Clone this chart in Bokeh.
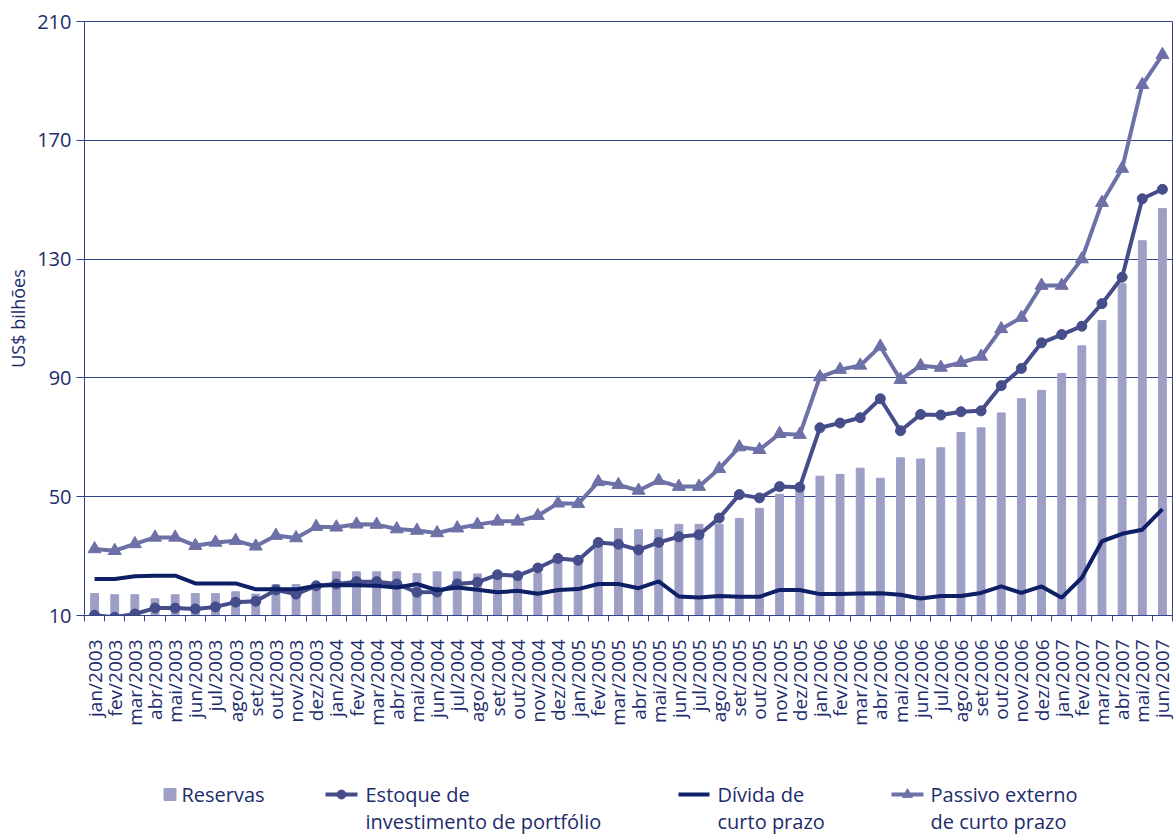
import math
from bokeh.plotting import figure
from bokeh.models import Range1d, FixedTicker, ColumnDataSource
from bokeh.layouts import column
from bokeh.embed import file_html
from bokeh.resources import INLINE
from bokeh.core.properties import value

# ---------------- data ----------------
meses = ["jan", "fev", "mar", "abr", "mai", "jun", "jul", "ago", "set", "out", "nov", "dez"]
months = [f"{m}/{y}" for y in (2003, 2004, 2005, 2006) for m in meses] + [f"{m}/2007" for m in meses[:6]]

reservas = [17.4, 17.0, 17.0, 15.6, 17.0, 17.4, 17.4, 18.0, 17.2, 20.4, 20.4, 20.4,
            24.7, 24.7, 24.7, 24.7, 24.1, 24.7, 24.7, 24.0, 23.5, 23.5, 24.2, 28.6,
            28.6, 34.1, 39.3, 38.9, 38.9, 40.7, 40.7, 40.7, 42.7, 46.1, 50.8, 53.2,
            56.9, 57.5, 59.6, 56.2, 63.1, 62.7, 66.5, 71.6, 73.2, 78.2, 83.0, 85.8,
            91.5, 100.8, 109.3, 121.7, 136.2, 147.0]

estoque = [10.1, 9.4, 10.5, 12.5, 12.5, 12.2, 12.9, 14.5, 14.8, 18.6, 17.2, 20.0,
           20.6, 21.4, 21.4, 20.6, 17.8, 17.9, 20.6, 21.2, 23.7, 23.4, 26.0, 29.2,
           28.6, 34.6, 34.0, 32.1, 34.6, 36.5, 37.2, 42.8, 50.7, 49.6, 53.4, 53.2,
           73.2, 74.8, 76.6, 83.0, 72.2, 77.7, 77.5, 78.6, 78.9, 87.4, 93.2, 101.8,
           104.6, 107.4, 115.0, 123.9, 150.3, 153.5]

divida = [22.3, 22.3, 23.2, 23.4, 23.4, 20.8, 20.8, 20.8, 18.8, 18.8, 18.8, 20.0,
          20.3, 20.2, 20.0, 19.4, 20.6, 18.5, 19.4, 18.7, 17.8, 18.3, 17.3, 18.6,
          18.9, 20.6, 20.6, 19.2, 21.5, 16.4, 16.1, 16.6, 16.3, 16.3, 18.6, 18.6,
          17.2, 17.2, 17.4, 17.5, 17.0, 15.7, 16.6, 16.6, 17.6, 19.8, 17.6, 19.8,
          16.0, 22.7, 35.0, 37.5, 38.9, 45.8]

passivo = [32.4, 31.8, 34.1, 36.3, 36.3, 33.5, 34.6, 35.2, 33.3, 36.9, 36.1, 39.9,
           39.7, 40.7, 40.6, 39.1, 38.6, 37.8, 39.4, 40.6, 41.7, 41.7, 43.6, 47.8,
           47.6, 55.0, 54.0, 52.1, 55.4, 53.4, 53.4, 59.4, 66.7, 65.8, 71.2, 70.9,
           90.3, 92.8, 94.2, 100.6, 89.4, 94.1, 93.5, 95.1, 97.2, 106.5, 110.3, 121.1,
           121.1, 130.0, 149.0, 160.5, 188.7, 198.8]

y_ticks = [10, 50, 90, 130, 170, 210]
y_label = "US$ bilhões"
legend_lines = [("Reservas", ""),
                ("Estoque de", "investimento de portfólio"),
                ("Dívida de", "curto prazo"),
                ("Passivo externo", "de curto prazo")]

# ---------------- style ----------------
TXT = "#1c2c6c"
C_BAR = "#9d9fc6"
C_EST = "#464d8b"
C_DIV = "#0e1f66"
C_PAS = "#6e71a7"
C_GRID = "#34448a"
FONT = "Open Sans"
W = 1174
LEFT, RIGHT = 84, 2
FRAME_R = W - RIGHT

idx = list(range(len(months)))
src = ColumnDataSource(dict(x=idx, reservas=reservas, estoque=estoque, divida=divida, passivo=passivo))

p = figure(width=W, height=730, output_backend="svg", toolbar_location=None,
           x_range=Range1d(-0.5, len(months) - 0.5), y_range=Range1d(y_ticks[0], y_ticks[-1]),
           min_border_left=LEFT, min_border_right=RIGHT, min_border_top=21, min_border_bottom=115)
p.background_fill_color = "white"
p.border_fill_color = "white"
p.outline_line_color = C_GRID
p.outline_line_width = 1

p.vbar(x="x", top="reservas", bottom=0, width=0.39, color=C_BAR, source=src)
p.line("x", "estoque", line_color=C_EST, line_width=4, source=src)
p.scatter("x", "estoque", marker="circle", size=10, color=C_EST, source=src)
p.line("x", "divida", line_color=C_DIV, line_width=4, source=src)
p.line("x", "passivo", line_color=C_PAS, line_width=4, source=src)
p.scatter("x", "passivo", marker="triangle", size=13, color=C_PAS, source=src)

# y axis
p.yaxis.ticker = FixedTicker(ticks=y_ticks)
p.yaxis.axis_label = y_label
p.yaxis.axis_label_text_font = FONT
p.yaxis.axis_label_text_font_style = "normal"
p.yaxis.axis_label_text_font_size = "18px"
p.yaxis.axis_label_text_color = TXT
p.yaxis.axis_label_standoff = 4
p.yaxis.major_label_text_font = FONT
p.yaxis.major_label_text_font_size = "20px"
p.yaxis.major_label_text_color = TXT
p.yaxis.major_tick_out = 8
p.yaxis.major_tick_in = 0
p.yaxis.major_tick_line_color = C_GRID
p.yaxis.minor_tick_line_color = None
p.yaxis.axis_line_color = C_GRID
p.yaxis.major_label_standoff = 5

p.ygrid.ticker = FixedTicker(ticks=y_ticks)
p.ygrid.grid_line_color = C_GRID
p.ygrid.grid_line_width = 1
p.xgrid.visible = False

# x axis: labels at centres, ticks at boundaries
p.xaxis.ticker = FixedTicker(ticks=idx, minor_ticks=[i - 0.5 for i in range(len(months) + 1)])
p.xaxis.major_label_overrides = {i: m for i, m in enumerate(months)}
p.xaxis.major_label_orientation = math.pi / 2
p.xaxis.major_label_text_font = FONT
p.xaxis.major_label_text_font_size = "19px"
p.xaxis.major_label_text_color = TXT
p.xaxis.major_tick_line_color = None
p.xaxis.major_tick_out = 6
p.xaxis.major_tick_in = 0
p.xaxis.minor_tick_line_color = C_GRID
p.xaxis.minor_tick_out = 6
p.xaxis.minor_tick_in = 0
p.xaxis.axis_line_color = C_GRID
p.xaxis.major_label_standoff = 18

# ---------------- legend figure (x in page pixels) ----------------
LH = 104
lg = figure(width=W, height=LH, output_backend="svg", toolbar_location=None,
            x_range=Range1d(LEFT, FRAME_R), y_range=Range1d(LH, 0),
            min_border_left=LEFT, min_border_right=RIGHT, min_border_top=0, min_border_bottom=0)
lg.axis.visible = False
lg.grid.visible = False
lg.outline_line_color = None
lg.background_fill_color = "white"
lg.border_fill_color = "white"

r1, r2 = 64, 91
lg.scatter([169.5], [r1], marker="square", size=12, color=C_BAR)
lg.line([325, 357], [r1, r1], line_color=C_EST, line_width=4)
lg.scatter([341], [r1], marker="circle", size=9, color=C_EST)
lg.line([678, 709], [r1, r1], line_color=C_DIV, line_width=4)
lg.line([891, 923], [r1, r1], line_color=C_PAS, line_width=4)
lg.scatter([907], [r1], marker="triangle", size=10, color=C_PAS)

tx = [181, 365, 717, 930]
lsrc = ColumnDataSource(dict(
    x=tx + tx,
    y=[r1] * 4 + [r2] * 4,
    t=[a for a, b in legend_lines] + [b for a, b in legend_lines]))
lg.text(x="x", y="y", text="t", source=lsrc, text_font=value(FONT), text_font_size="20px",
        text_color=TXT, text_baseline="middle", text_align="left")

layout = column(p, lg, spacing=0)
open("out.html", "w").write(file_html(layout, INLINE))
